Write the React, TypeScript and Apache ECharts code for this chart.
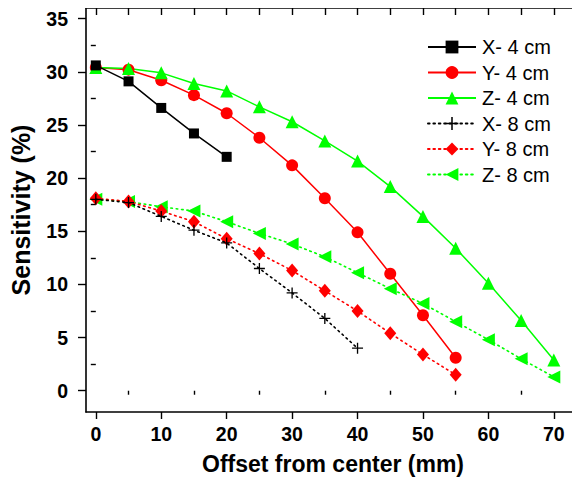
import React, { useEffect, useRef } from "react";
import * as echarts from "echarts";

// Offset from center (mm) shared by all series; each series uses as many as it has values
const offsets = [0, 5, 10, 15, 20, 25, 30, 35, 40, 45, 50, 55, 60, 65, 70];

// Sensitivity (%) per series
const x4cm = [30.6, 29.1, 26.6, 24.2, 22.0];
const y4cm = [30.4, 30.2, 29.2, 27.8, 26.1, 23.8, 21.2, 18.1, 14.9, 11.0, 7.1, 3.1];
const z4cm = [30.4, 30.3, 29.9, 28.9, 28.2, 26.7, 25.3, 23.5, 21.6, 19.2, 16.4, 13.4, 10.1, 6.6, 2.9];
const x8cm = [18.0, 17.7, 16.4, 15.1, 13.9, 11.5, 9.2, 6.8, 4.0];
const y8cm = [18.1, 17.8, 16.9, 15.9, 14.3, 12.9, 11.3, 9.4, 7.5, 5.4, 3.4, 1.5];
const z8cm = [18.0, 17.8, 17.3, 16.9, 15.9, 14.8, 13.8, 12.6, 11.1, 9.6, 8.2, 6.5, 4.8, 3.0, 1.3];

// Axis ticks and labels
const xMajor = [0, 10, 20, 30, 40, 50, 60, 70];
const xMinor = [5, 15, 25, 35, 45, 55, 65];
const xTop = [0, 5, 10, 15, 20, 25, 30, 35, 40, 45, 50, 55, 60, 65, 70];
const yMajor = [0, 5, 10, 15, 20, 25, 30, 35];
const yMinor = [2.5, 7.5, 12.5, 17.5, 22.5, 27.5, 32.5];

const FONT = "'Liberation Sans', Arial, sans-serif";
const BLACK = "#000000";
const RED = "#ff0000";
const GREEN = "#00ff00";

const PLUS = "path://M4.4,0H5.6V4.4H10V5.6H5.6V10H4.4V5.6H0V4.4H4.4Z";

const pairs = (vals: number[]) => vals.map((v, i) => [offsets[i], v]);

export default function App() {
  const ref = useRef<HTMLDivElement>(null);

  useEffect(() => {
    if (!ref.current) return;
    const chart = echarts.init(ref.current, null, { renderer: "svg" });

    const X_MIN = -1.5;
    const X_MAX = 74;
    const Y_MIN = -2;
    const Y_MAX = 36;

    const hiddenAxisBase = {
      axisLine: { show: false },
      axisLabel: { show: false },
      splitLine: { show: false },
    };

    const solid = { width: 1.5, type: "solid" as const };
    const dotted = { width: 1.6, type: [1.6, 3.8] as number[], cap: "round" as const };

    chart.setOption({
      animation: false,
      backgroundColor: "#ffffff",
      grid: { left: 86, right: -1, top: 8, bottom: 68, containLabel: false },
      legend: {
        orient: "vertical",
        left: 427,
        top: 37,
        padding: 0,
        itemWidth: 48,
        itemHeight: 16,
        itemGap: 5.5,
        textStyle: { fontFamily: FONT, fontSize: 20, lineHeight: 18, color: BLACK, padding: [0, 0, 0, 1] },
        data: ["X- 4 cm", "Y- 4 cm", "Z- 4 cm", "X- 8 cm", "Y- 8 cm", "Z- 8 cm"],
      },
      xAxis: [
        {
          type: "value",
          min: X_MIN,
          max: X_MAX,
          position: "bottom",
          name: "Offset from center (mm)",
          nameLocation: "middle",
          nameGap: 40,
          nameTextStyle: { fontFamily: FONT, fontSize: 23, fontWeight: "bold", color: BLACK },
          axisLine: { show: true, onZero: false, lineStyle: { color: BLACK, width: 1.6 } },
          axisTick: { show: true, length: 7, lineStyle: { color: BLACK, width: 1.4 }, customValues: xMajor },
          axisLabel: {
            margin: 12,
            fontFamily: FONT,
            fontSize: 19.5,
            fontWeight: "bold",
            color: BLACK,
            customValues: xMajor,
          },
          splitLine: { show: false },
        },
        {
          type: "value",
          min: X_MIN,
          max: X_MAX,
          position: "bottom",
          ...hiddenAxisBase,
          axisTick: { show: true, length: 4, lineStyle: { color: BLACK, width: 1.4 }, customValues: xMinor },
        },
        {
          type: "value",
          min: X_MIN,
          max: X_MAX,
          position: "top",
          axisLine: { show: true, onZero: false, lineStyle: { color: BLACK, width: 1.6 } },
          axisLabel: { show: false },
          splitLine: { show: false },
          axisTick: { show: true, inside: true, length: 7, lineStyle: { color: BLACK, width: 1.4 }, customValues: xTop },
        },
      ],
      yAxis: [
        {
          type: "value",
          min: Y_MIN,
          max: Y_MAX,
          position: "left",
          name: "Sensitivity (%)",
          nameLocation: "middle",
          nameGap: 53,
          nameTextStyle: { fontFamily: FONT, fontSize: 25, fontWeight: "bold", color: BLACK },
          axisLine: { show: true, onZero: false, lineStyle: { color: BLACK, width: 1.6 } },
          axisTick: { show: true, length: 8, lineStyle: { color: BLACK, width: 1.4 }, customValues: yMajor },
          axisLabel: {
            margin: 18,
            fontFamily: FONT,
            fontSize: 19.5,
            fontWeight: "bold",
            color: BLACK,
            customValues: yMajor,
          },
          splitLine: { show: false },
        },
        {
          type: "value",
          min: Y_MIN,
          max: Y_MAX,
          position: "left",
          ...hiddenAxisBase,
          axisTick: { show: true, length: 5, lineStyle: { color: BLACK, width: 1.4 }, customValues: yMinor },
        },
        {
          type: "value",
          min: Y_MIN,
          max: Y_MAX,
          position: "right",
          axisLine: { show: true, onZero: false, lineStyle: { color: BLACK, width: 1.6 } },
          axisLabel: { show: false },
          splitLine: { show: false },
          axisTick: { show: true, inside: true, length: 5, lineStyle: { color: BLACK, width: 1.4 }, customValues: yMajor },
        },
      ],
      series: [
        {
          name: "X- 4 cm",
          type: "line",
          data: pairs(x4cm),
          symbol: "rect",
          symbolSize: 10,
          itemStyle: { color: BLACK },
          lineStyle: { color: BLACK, ...solid },
          z: 3,
        },
        {
          name: "Y- 4 cm",
          type: "line",
          data: pairs(y4cm),
          symbol: "circle",
          symbolSize: 12,
          itemStyle: { color: RED },
          lineStyle: { color: RED, ...solid },
          z: 2,
        },
        {
          name: "Z- 4 cm",
          type: "line",
          data: pairs(z4cm),
          symbol: "triangle",
          symbolSize: 13,
          itemStyle: { color: GREEN },
          lineStyle: { color: GREEN, ...solid },
          z: 2,
        },
        {
          name: "X- 8 cm",
          type: "line",
          data: pairs(x8cm),
          symbol: PLUS,
          symbolSize: 11,
          itemStyle: { color: BLACK },
          lineStyle: { color: BLACK, ...dotted },
          z: 4,
        },
        {
          name: "Y- 8 cm",
          type: "line",
          data: pairs(y8cm),
          symbol: "diamond",
          symbolSize: [12, 14],
          itemStyle: { color: RED },
          lineStyle: { color: RED, ...dotted },
          z: 3,
        },
        {
          name: "Z- 8 cm",
          type: "line",
          data: pairs(z8cm),
          symbol: "triangle",
          symbolRotate: 90,
          symbolSize: 13,
          itemStyle: { color: GREEN },
          lineStyle: { color: GREEN, ...dotted },
          z: 2,
        },
      ],
    });

    return () => chart.dispose();
  }, []);

  return <div ref={ref} style={{ width: 580, height: 480, marginLeft: -8, marginTop: -8 }} />;
}
